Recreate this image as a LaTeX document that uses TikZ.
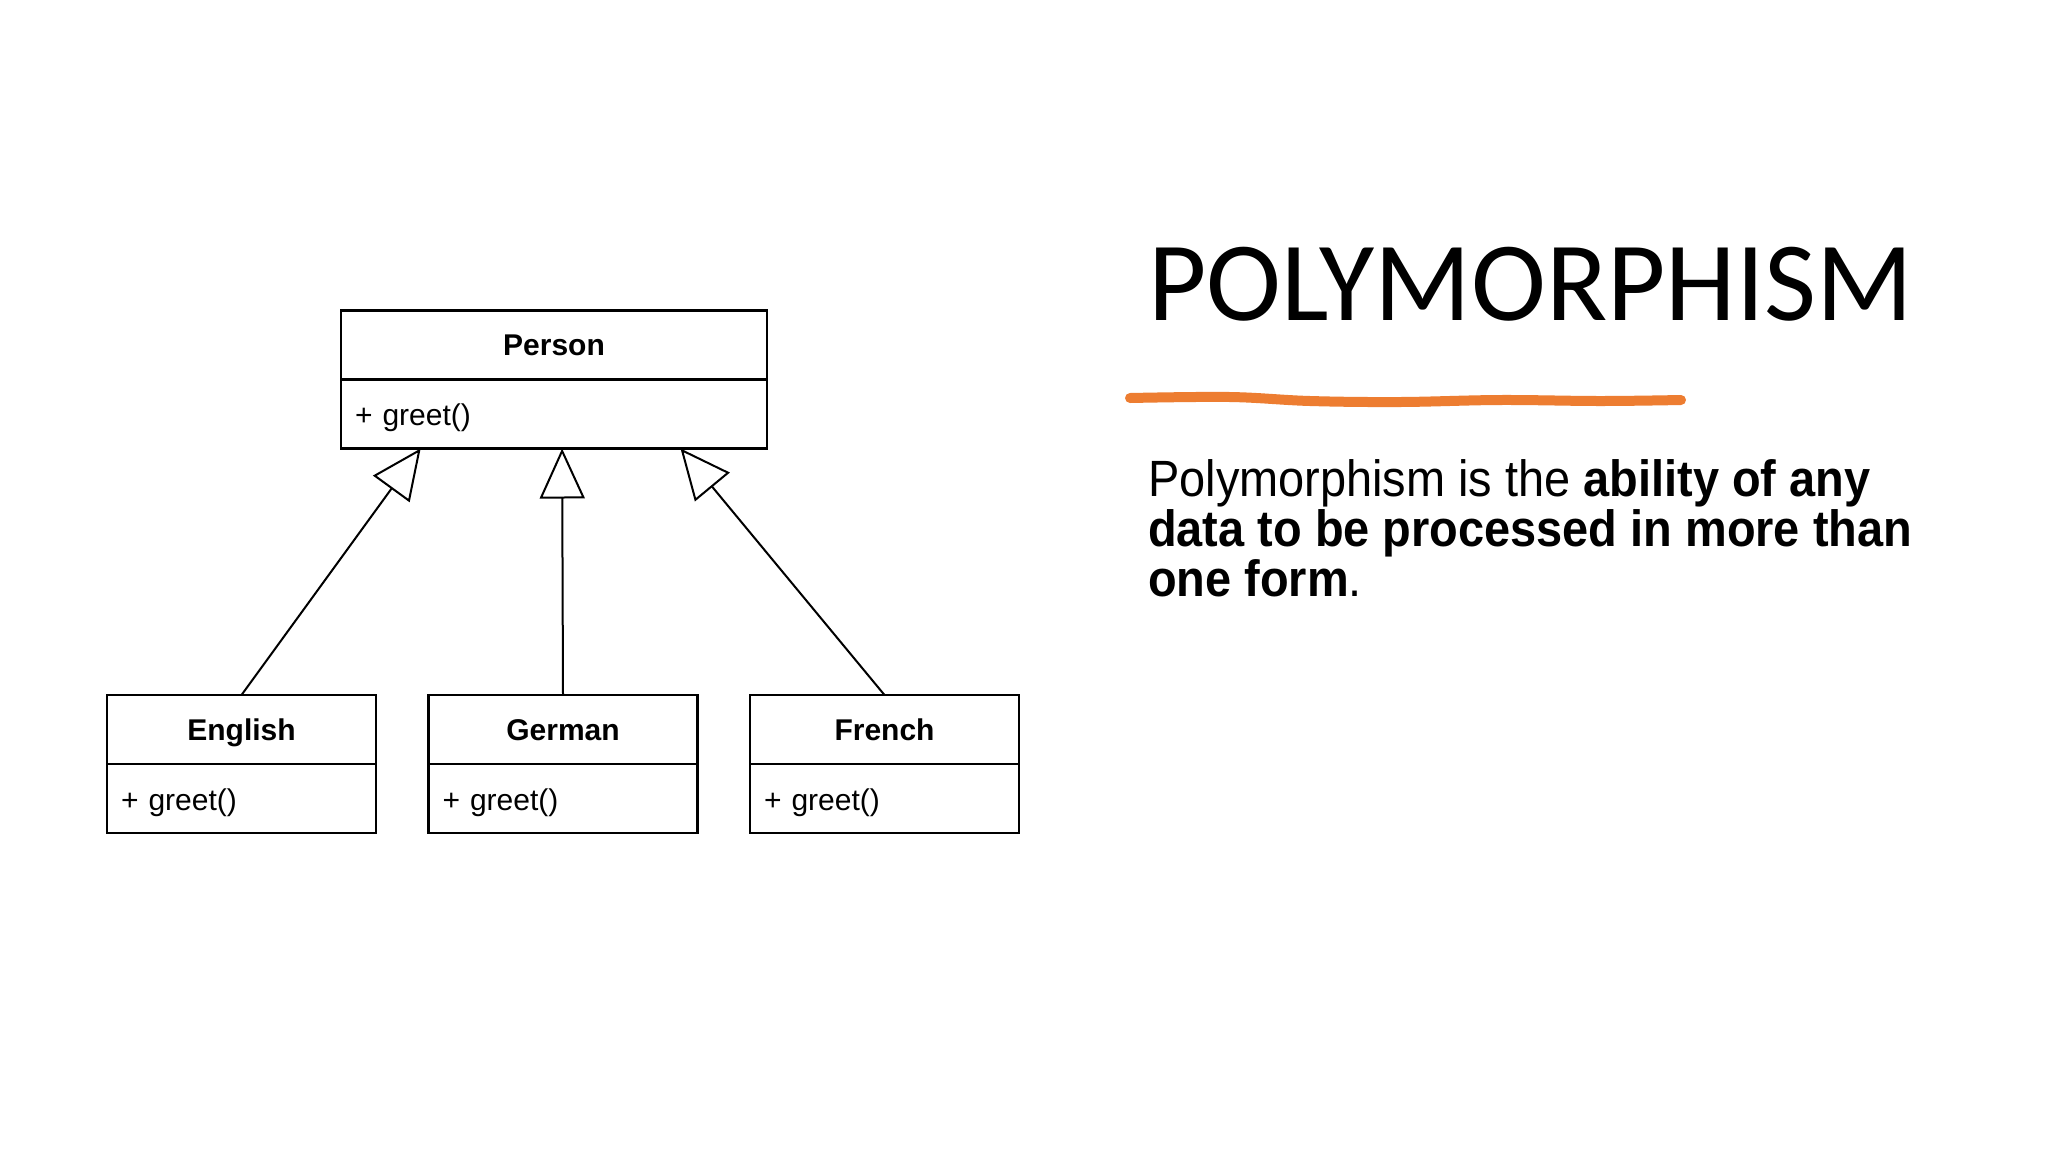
\documentclass[tikz,border=0pt]{standalone}
\usepackage{fontspec}
\setmainfont{Liberation Sans}
\newfontfamily\titlefont{Carlito}
\newfontfamily\descfont[FakeStretch=0.92]{Liberation Sans}
\usetikzlibrary{arrows.meta, positioning, calc}
\definecolor{accent}{RGB}{237,125,49}

\begin{document}
\begin{tikzpicture}[x=1pt, y=-1pt,
  classhead/.style={rectangle, draw, line width=2.4pt, outer sep=0pt, minimum width=269pt, minimum height=69pt, inner sep=0pt, text height=28.7pt, text depth=7pt, font=\fontsize{30}{36}\selectfont\bfseries},
  classbody/.style={rectangle, draw, line width=2.4pt, outer sep=0pt, minimum width=269pt, minimum height=69pt, inner xsep=14pt, inner ysep=0pt, text width=241pt, text height=27pt, text depth=3.4pt, align=left, font=\fontsize{30}{36}\selectfont},
  inherit/.style={line width=2pt, -{Triangle[open, length=50pt, width=45pt, fill=white]}},
]
\useasboundingbox[fill=white] (0,0) rectangle (2048,1152);

% class diagram
\node[classhead, minimum width=426pt] (person) at (554,345) {Person};
\node[classbody, minimum width=426pt, text width=398pt, below=0pt of person] (personops) {+ greet()};

\node[classhead] (english) at (241.5,729.5) {English};
\node[classbody, below=0pt of english] (englishops) {+ greet()};
\node[classhead, right=52.5pt of english] (german) {German};
\node[classbody, below=0pt of german] (germanops) {+ greet()};
\node[classhead, right=52.5pt of german] (french) {French};
\node[classbody, below=0pt of french] (frenchops) {+ greet()};

\coordinate (tipE) at ($(personops.south west)!0.187!(personops.south east)$);
\coordinate (tipG) at ($(personops.south west)!0.519!(personops.south east)$);
\coordinate (tipF) at ($(personops.south west)!0.797!(personops.south east)$);

\draw[inherit] (english.north) -- (tipE);
\draw[inherit] (german.north) -- (tipG);
\draw[inherit] (french.north) -- (tipF);

% title side
\node[anchor=base west, inner sep=0pt, font=\titlefont\fontsize{113}{120}\selectfont] (title) at (1148,320) {POLYMORPHISM};
\draw[accent, line width=10pt, line cap=round] plot[smooth, tension=0.6] coordinates {(1130,398) (1230,397) (1310,401) (1400,402) (1500,400) (1600,401) (1681,400)};
\node[anchor=base west, inner sep=0pt, align=left, font=\descfont\fontsize{51}{49.6}\selectfont] (desc) at (1148,596) {Polymorphism is the \textbf{ability of any}\\ \textbf{data to be processed in more than}\\ \textbf{one form}.};
\end{tikzpicture}
\end{document}
